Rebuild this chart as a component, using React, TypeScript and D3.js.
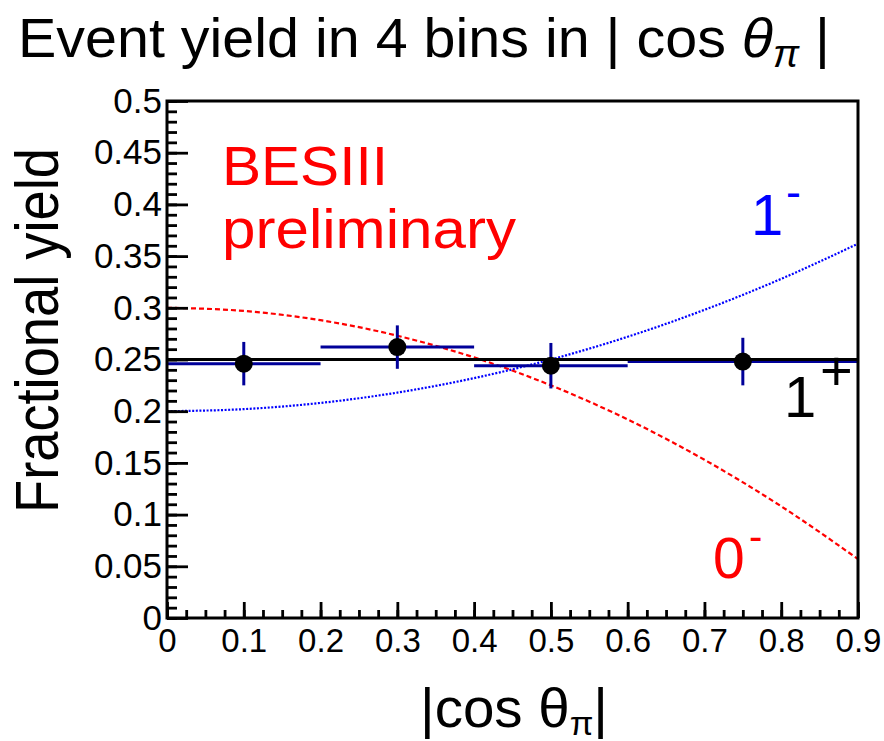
import React, { useEffect, useRef } from "react";
import * as d3 from "d3";

// ---- data ----
const yTickValues = [0, 0.05, 0.1, 0.15, 0.2, 0.25, 0.3, 0.35, 0.4, 0.45, 0.5];
const yTickLabels = ["0", "0.05", "0.1", "0.15", "0.2", "0.25", "0.3", "0.35", "0.4", "0.45", "0.5"];
const xTickValues = [0, 0.1, 0.2, 0.3, 0.4, 0.5, 0.6, 0.7, 0.8, 0.9];
const xTickLabels = ["0", "0.1", "0.2", "0.3", "0.4", "0.5", "0.6", "0.7", "0.8", "0.9"];

const binLow = [0, 0.2, 0.4, 0.6];
const binHigh = [0.2, 0.4, 0.6, 0.9];
const binCenter = [0.1, 0.3, 0.5, 0.75];
const yieldValues = [0.246, 0.262, 0.244, 0.248];
const yieldErrors = [0.021, 0.021, 0.022, 0.023];

const curveX = [0, 0.1, 0.2, 0.3, 0.4, 0.5, 0.6, 0.7, 0.8, 0.9];
const zeroMinus = [0.3, 0.297, 0.288, 0.273, 0.252, 0.225, 0.192, 0.153, 0.108, 0.057];
const oneMinus = [0.2, 0.202, 0.208, 0.218, 0.232, 0.25, 0.272, 0.298, 0.328, 0.362];
const onePlus = [0.25, 0.25, 0.25, 0.25, 0.25, 0.25, 0.25, 0.25, 0.25, 0.25];

const FONT = "'Liberation Sans', Arial, Helvetica, sans-serif";

export default function App() {
  const ref = useRef<SVGGElement | null>(null);

  useEffect(() => {
    const svg = d3.select(ref.current);
    svg.selectAll("*").remove();

    const x = d3.scaleLinear().domain([0, 0.9]).range([167, 858]);
    const y = d3.scaleLinear().domain([0, 0.5]).range([618, 101]);

    svg
      .append("defs")
      .append("clipPath")
      .attr("id", "plotclip")
      .append("rect")
      .attr("x", 167)
      .attr("y", 101)
      .attr("width", 691)
      .attr("height", 517);

    const plot = svg.append("g").attr("clip-path", "url(#plotclip)");

    const line = d3
      .line<number>()
      .x((_, i) => x(curveX[i]))
      .y((d) => y(d))
      .curve(d3.curveMonotoneX);

    plot
      .append("path")
      .attr("d", line(zeroMinus))
      .attr("fill", "none")
      .attr("stroke", "#ff0000")
      .attr("stroke-width", 2.2)
      .attr("stroke-dasharray", "5 3");

    plot
      .append("path")
      .attr("d", line(oneMinus))
      .attr("fill", "none")
      .attr("stroke", "#0000ff")
      .attr("stroke-width", 2.2)
      .attr("stroke-dasharray", "2 1.6");

    binCenter.forEach((c, i) => {
      plot
        .append("line")
        .attr("x1", x(binLow[i]))
        .attr("x2", x(binHigh[i]))
        .attr("y1", y(yieldValues[i]))
        .attr("y2", y(yieldValues[i]))
        .attr("stroke", "#000099")
        .attr("stroke-width", 3);
    });

    plot
      .append("path")
      .attr("d", line(onePlus))
      .attr("fill", "none")
      .attr("stroke", "#000")
      .attr("stroke-width", 3.2);

    binCenter.forEach((c, i) => {
      plot
        .append("line")
        .attr("x1", x(c))
        .attr("x2", x(c))
        .attr("y1", y(yieldValues[i] - yieldErrors[i]))
        .attr("y2", y(yieldValues[i] + yieldErrors[i]))
        .attr("stroke", "#000099")
        .attr("stroke-width", 3);
    });
    binCenter.forEach((c, i) => {
      svg
        .append("circle")
        .attr("cx", x(c))
        .attr("cy", y(yieldValues[i]))
        .attr("r", 9)
        .attr("fill", "#000");
    });

    const styleAxis = (g: any, w: number, fs: number) => {
      g.select(".domain").remove();
      g.selectAll("line").attr("stroke-width", w);
      g.selectAll("text")
        .attr("font-family", FONT)
        .attr("font-size", fs)
        .attr("fill", "#000");
    };

    const yMinor = d3.range(0, 51).map((i) => i / 100);
    const xMinor = d3.range(0, 37).map((i) => i / 40);

    svg
      .append("g")
      .attr("transform", "translate(167,0)")
      .call(d3.axisLeft(y).tickValues(yMinor).tickSize(-10).tickFormat(() => ""))
      .call((g: any) => styleAxis(g, 2.8, 35));
    svg
      .append("g")
      .attr("transform", "translate(167,0)")
      .call(
        d3
          .axisLeft(y)
          .tickValues(yTickValues)
          .tickSize(-21)
          .tickPadding(5)
          .tickFormat((_: any, i: number) => yTickLabels[i])
      )
      .call((g: any) => styleAxis(g, 2.8, 35));

    svg
      .append("g")
      .attr("transform", "translate(0,618)")
      .call(d3.axisBottom(x).tickValues(xMinor).tickSize(-8).tickFormat(() => ""))
      .call((g: any) => styleAxis(g, 2.8, 33));
    svg
      .append("g")
      .attr("transform", "translate(0,618)")
      .call(
        d3
          .axisBottom(x)
          .tickValues(xTickValues)
          .tickSize(-16)
          .tickPadding(11)
          .tickFormat((_: any, i: number) => xTickLabels[i])
      )
      .call((g: any) => styleAxis(g, 2.8, 33));

    svg
      .append("rect")
      .attr("x", 167)
      .attr("y", 101)
      .attr("width", 691)
      .attr("height", 517)
      .attr("fill", "none")
      .attr("stroke", "#000")
      .attr("stroke-width", 3);
  }, []);

  return (
    <svg
      width={884}
      height={741}
      style={{ position: "absolute", left: 0, top: 0, background: "#fff" }}
      fontFamily={FONT}
    >
      <g ref={ref} />
      {/* title */}
      <text x={18} y={57} fontSize={56} textLength={812} lengthAdjust="spacingAndGlyphs" fill="#000">
        {"Event yield in 4 bins in | cos "}
        <tspan fontStyle="italic">θ</tspan>
        <tspan fontStyle="italic" fontSize={38} dy={10}>π</tspan>
        <tspan dy={-10}>{" |"}</tspan>
      </text>
      {/* y axis title */}
      <text
        transform="translate(58,513) rotate(-90)"
        fontSize={62}
        textLength={365}
        lengthAdjust="spacingAndGlyphs"
        fill="#000"
      >
        Fractional yield
      </text>
      {/* x axis title */}
      <text x={420} y={727} fontSize={56} textLength={188} lengthAdjust="spacingAndGlyphs" fill="#000">
        {"|cos θ"}
        <tspan fontSize={34} dy={8}>π</tspan>
        <tspan dy={-8}>|</tspan>
      </text>
      {/* BESIII preliminary */}
      <text x={222} y={185} fontSize={56} fill="#ff0000" textLength={166} lengthAdjust="spacingAndGlyphs">
        BESIII
      </text>
      <text x={222} y={248} fontSize={56} fill="#ff0000" textLength={294} lengthAdjust="spacingAndGlyphs">
        preliminary
      </text>
      {/* hypothesis labels */}
      <text x={751} y={235} fontSize={58} fill="#0000ff">1</text>
      <text x={786} y={207} fontSize={45} fill="#0000ff">-</text>
      <text x={784} y={417} fontSize={58} fill="#000">1</text>
      <text x={820} y={390} fontSize={56} fill="#000">+</text>
      <text x={713} y={578} fontSize={57} fill="#ff0000">0</text>
      <text x={749} y={550} fontSize={40} fill="#ff0000">-</text>
    </svg>
  );
}
